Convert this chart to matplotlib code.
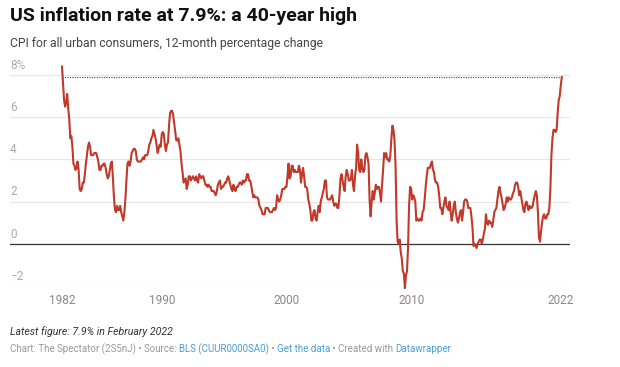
import numpy as np
import matplotlib.pyplot as plt
from matplotlib import transforms

plt.rcParams['font.family'] = ['Roboto', 'DejaVu Sans']

# CPI-U, 12-month % change, Jan 1982 .. Feb 2022
cpi = [
    8.4, 7.6, 6.8, 6.5, 6.7, 7.1, 6.4, 5.9, 5.0, 5.1, 4.6, 3.8,   # 1982
    3.7, 3.5, 3.6, 3.9, 3.5, 2.6, 2.5, 2.6, 2.9, 2.9, 3.3, 3.8,   # 1983
    4.2, 4.6, 4.8, 4.6, 4.2, 4.2, 4.2, 4.3, 4.3, 4.3, 4.1, 3.9,   # 1984
    3.5, 3.5, 3.7, 3.7, 3.8, 3.8, 3.6, 3.3, 3.1, 3.2, 3.5, 3.8,   # 1985
    3.9, 3.1, 2.2, 1.6, 1.5, 1.8, 1.6, 1.6, 1.8, 1.5, 1.3, 1.1,   # 1986
    1.5, 2.1, 3.0, 3.8, 3.9, 3.7, 3.9, 4.3, 4.4, 4.5, 4.5, 4.4,   # 1987
    4.0, 3.9, 3.9, 3.9, 3.9, 4.0, 4.1, 4.0, 4.2, 4.2, 4.2, 4.4,   # 1988
    4.7, 4.8, 5.0, 5.1, 5.4, 5.2, 5.0, 4.7, 4.3, 4.5, 4.7, 4.6,   # 1989
    5.2, 5.3, 5.2, 4.7, 4.4, 4.7, 4.8, 5.6, 6.2, 6.3, 6.3, 6.1,   # 1990
    5.7, 5.3, 4.9, 4.9, 5.0, 4.7, 4.4, 3.8, 3.4, 2.9, 3.0, 3.1,   # 1991
    2.6, 2.8, 3.2, 3.2, 3.0, 3.1, 3.2, 3.1, 3.0, 3.2, 3.0, 2.9,   # 1992
    3.3, 3.2, 3.1, 3.2, 3.2, 3.0, 2.8, 2.8, 2.7, 2.8, 2.7, 2.7,   # 1993
    2.5, 2.5, 2.5, 2.4, 2.3, 2.5, 2.8, 2.9, 3.0, 2.6, 2.7, 2.7,   # 1994
    2.8, 2.9, 2.9, 3.1, 3.2, 3.0, 2.8, 2.6, 2.5, 2.8, 2.6, 2.5,   # 1995
    2.7, 2.7, 2.8, 2.9, 2.9, 2.8, 3.0, 2.9, 3.0, 3.0, 3.3, 3.3,   # 1996
    3.0, 3.0, 2.8, 2.5, 2.2, 2.3, 2.2, 2.2, 2.2, 2.1, 1.8, 1.7,   # 1997
    1.6, 1.4, 1.4, 1.4, 1.7, 1.7, 1.7, 1.6, 1.5, 1.5, 1.5, 1.6,   # 1998
    1.7, 1.6, 1.7, 2.3, 2.1, 2.0, 2.1, 2.3, 2.6, 2.6, 2.6, 2.7,   # 1999
    2.7, 3.2, 3.8, 3.1, 3.2, 3.7, 3.7, 3.4, 3.5, 3.4, 3.4, 3.4,   # 2000
    3.7, 3.5, 2.9, 3.3, 3.6, 3.2, 2.7, 2.7, 2.6, 2.1, 1.9, 1.6,   # 2001
    1.1, 1.1, 1.5, 1.6, 1.2, 1.1, 1.5, 1.8, 1.5, 2.0, 2.2, 2.4,   # 2002
    2.6, 3.0, 3.0, 2.2, 2.1, 2.1, 2.1, 2.2, 2.3, 2.0, 1.8, 1.9,   # 2003
    1.9, 1.7, 1.7, 2.3, 3.1, 3.3, 3.0, 2.7, 2.5, 3.2, 3.5, 3.3,   # 2004
    3.0, 3.0, 3.1, 3.5, 2.8, 2.5, 3.2, 3.6, 4.7, 4.3, 3.5, 3.4,   # 2005
    4.0, 3.6, 3.4, 3.5, 4.2, 4.3, 4.1, 3.8, 2.1, 1.3, 2.0, 2.5,   # 2006
    2.1, 2.4, 2.8, 2.6, 2.7, 2.7, 2.4, 2.0, 2.8, 3.5, 4.3, 4.1,   # 2007
    4.3, 4.0, 4.0, 3.9, 4.2, 5.0, 5.6, 5.4, 4.9, 3.7, 1.1, 0.1,   # 2008
    0.0, 0.2, -0.4, -0.7, -1.3, -1.4, -2.1, -1.5, -1.3, -0.2, 1.8, 2.7,  # 2009
    2.6, 2.1, 2.3, 2.2, 2.0, 1.1, 1.2, 1.1, 1.1, 1.2, 1.1, 1.5,   # 2010
    1.6, 2.1, 2.7, 3.2, 3.6, 3.6, 3.6, 3.8, 3.9, 3.5, 3.4, 3.0,   # 2011
    2.9, 2.9, 2.7, 2.3, 1.7, 1.7, 1.4, 1.7, 2.0, 2.2, 1.8, 1.7,   # 2012
    1.6, 2.0, 1.5, 1.1, 1.4, 1.8, 2.0, 1.5, 1.2, 1.0, 1.2, 1.5,   # 2013
    1.6, 1.1, 1.5, 2.0, 2.1, 2.1, 2.0, 1.7, 1.7, 1.7, 1.3, 0.8,   # 2014
    -0.1, 0.0, -0.1, -0.2, 0.0, 0.1, 0.2, 0.2, 0.0, 0.2, 0.5, 0.7,  # 2015
    1.4, 1.0, 0.9, 1.1, 1.0, 1.0, 0.8, 1.1, 1.5, 1.6, 1.7, 2.1,   # 2016
    2.5, 2.7, 2.4, 2.2, 1.9, 1.6, 1.7, 1.9, 2.2, 2.0, 2.2, 2.1,   # 2017
    2.1, 2.2, 2.4, 2.5, 2.8, 2.9, 2.9, 2.7, 2.3, 2.5, 2.2, 1.9,   # 2018
    1.6, 1.5, 1.9, 2.0, 1.8, 1.6, 1.8, 1.7, 1.7, 1.8, 2.1, 2.3,   # 2019
    2.5, 2.3, 1.5, 0.3, 0.1, 0.6, 1.0, 1.3, 1.4, 1.2, 1.2, 1.4,   # 2020
    1.4, 1.7, 2.6, 4.2, 5.0, 5.4, 5.4, 5.3, 5.4, 6.2, 6.8, 7.0,   # 2021
    7.5, 7.9,                                                     # 2022
]
dates = 1982 + np.arange(len(cpi)) / 12

y_ticks = [-2, 0, 2, 4, 6, 8]
y_labels = ['\u22122', '0', '2', '4', '6', '8%']
x_ticks = [1982, 1990, 2000, 2010, 2022]
latest = 7.9

W, H = 620, 367
fig = plt.figure(figsize=(W / 100, H / 100), dpi=100)
ax = fig.add_axes([10 / W, (H - 286) / H, 560 / W, 211 / H])
ax.set_xlim(1977.83, 2022.74)
ax.set_ylim(-2, 8)
for s in ax.spines.values():
    s.set_visible(False)
ax.set_xticks([])
ax.set_yticks([])

for v in y_ticks:
    if v == 0:
        ax.axhline(v, color='#333333', lw=0.9, zorder=2)
    else:
        ax.axhline(v, color='#e6e6e6', lw=0.8, zorder=1)

tr = transforms.blended_transform_factory(ax.transAxes, ax.transData)
for v, lab in zip(y_ticks, y_labels):
    ax.text(0, v + 0.15, lab, transform=tr, ha='left', va='bottom',
            fontsize=8.5, color='#aaaaaa')

ax.plot([dates[0], dates[-1]], [latest, latest], color='#444444', lw=0.8,
        linestyle=(0, (1, 1.2)), zorder=2)
ax.plot(dates, cpi, color='#c0392b', lw=1.5, zorder=3, clip_on=False)

trx = transforms.blended_transform_factory(ax.transData, fig.transFigure)
for t in x_ticks:
    ax.text(t, 1 - 300 / H, str(t), transform=trx, ha='center', va='center',
            fontsize=8.5, color='#888888')

fig.text(10 / W, 1 - 16 / H, 'US inflation rate at 7.9%: a 40-year high',
         fontsize=14, fontweight='bold', color='#111111', va='center')
fig.text(10 / W, 1 - 43 / H, 'CPI for all urban consumers, 12-month percentage change',
         fontsize=8.7, color='#444444', va='center')
fig.text(10 / W, 1 - 332 / H, 'Latest figure: 7.9% in February 2022',
         fontsize=7.6, style='italic', color='#333333', va='center')

# footer with coloured links
parts = [('Chart: The Spectator (2S5nJ) \u2022 Source: ', '#999999'),
         ('BLS (CUUR0000SA0)', '#4a9fd8'),
         (' \u2022 ', '#999999'),
         ('Get the data', '#4a9fd8'),
         (' \u2022 Created with ', '#999999'),
         ('Datawrapper', '#4a9fd8')]
fig.canvas.draw()
renderer = fig.canvas.get_renderer()
x = 10
for txt, col in parts:
    t = fig.text(x / W, 1 - 349 / H, txt, fontsize=7.0, color=col, va='center')
    bb = t.get_window_extent(renderer)
    x += bb.width

fig.savefig('out.png', dpi=100)
